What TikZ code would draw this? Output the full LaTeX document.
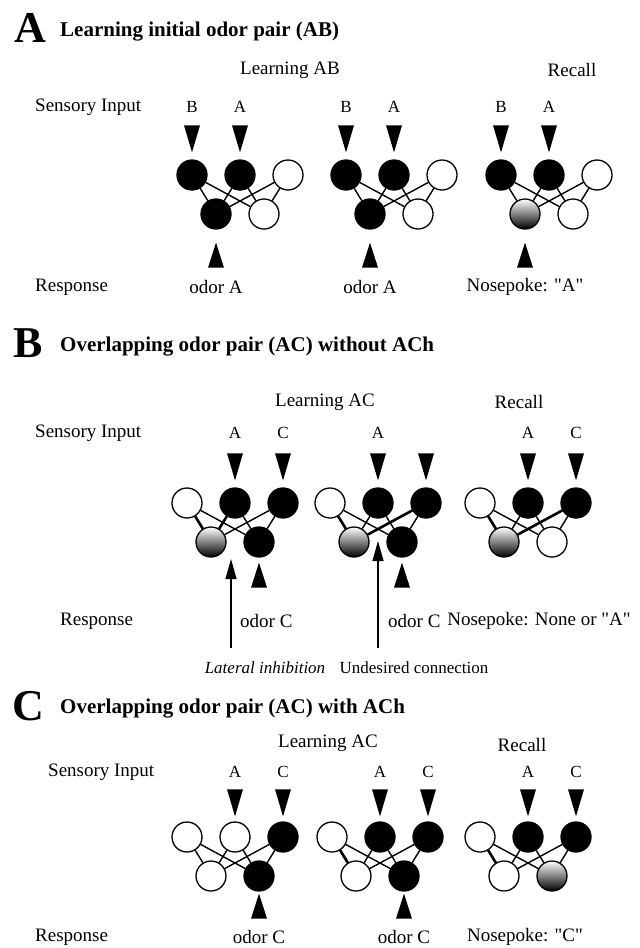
\documentclass[tikz,border=0pt]{standalone}
\usepackage{fontspec}
\setmainfont{Liberation Serif}[Ligatures=TeXOff]
\usetikzlibrary{arrows.meta,calc,backgrounds}

% one layer of three input cells above two output cells, fully connected
\newcommand\drawnet[8]{%
  \node[#4] (#1t1) at (#2,#3) {};
  \node[#5] (#1t2) at (#2+48,#3) {};
  \node[#6] (#1t3) at (#2+96,#3) {};
  \node[#7] (#1b1) at (#2+24,#3+39) {};
  \node[#8] (#1b2) at (#2+72,#3+39) {};
  \foreach \u in {1,2,3}{\foreach \v in {1,2}{\draw[syn] (#1t\u) -- (#1b\v);}}
}

\begin{document}
\begin{tikzpicture}[x=1pt,y=-1pt,
  neuron/.style={circle,draw=black,line width=1.3pt,minimum size=30pt,inner sep=0pt},
  on/.style={neuron,fill=black},
  off/.style={neuron,fill=white},
  mid/.style={neuron,top color=white,middle color=gray!60,bottom color=black},
  syn/.style={line width=1.4pt},
  strong/.style={line width=2.6pt},
  big/.style={font=\fontsize{44}{44}\selectfont\bfseries,inner sep=0pt},
  heading/.style={font=\fontsize{21}{24}\selectfont\bfseries,anchor=west,inner sep=0pt},
  lab/.style={font=\fontsize{19}{22}\selectfont,inner sep=0pt},
  note/.style={font=\fontsize{17}{20}\selectfont,inner sep=0pt},
  odor/.style={font=\fontsize{17}{20}\selectfont,inner sep=0pt},
  pointer/.style={line width=1.2pt,-{Triangle[length=20pt,width=11pt]}},
  downtri/.pic={\fill (-8,-27) -- (8,-27) -- (0,0) -- cycle;},
  uptri/.pic={\fill (-8,25) -- (8,25) -- (0,0) -- cycle;}
]
\useasboundingbox[fill=white] (0,0) rectangle (640,948);

% ---------------- A ----------------
\node[big] (Aletter) at (30,28) {A};
\node[heading] (Atitle) at (60,32) {Learning initial odor pair (AB)};
\node[lab] (Alearn) at (290,70) {Learning AB};
\node[lab] (Arecall) at (572,70) {Recall};
\node[lab,anchor=west] (Asens) at (35,107) {Sensory Input};
\node[lab,anchor=west] (Aresp) at (35,287) {Response};

\drawnet{A1}{192}{175}{on}{on}{off}{on}{off}
\drawnet{A2}{346}{175}{on}{on}{off}{on}{off}
\drawnet{A3}{501}{175}{on}{on}{off}{mid}{off}

\foreach \n in {A1,A2,A3}{
  \node[odor] (\n inB) at ($(\n t1)+(0,-68)$) {B};
  \node[odor] (\n inA) at ($(\n t2)+(0,-68)$) {A};
  \pic at ($(\n t1.north)+(0,-7)$) {downtri};
  \pic at ($(\n t2.north)+(0,-7)$) {downtri};
  \pic at ($(\n b1.south)+(0,13)$) {uptri};
}
\node[lab] (A1out) at (216,287) {odor A};
\node[lab] (A2out) at (370,287) {odor A};
\node[lab] (A3out) at (525,287) {Nosepoke: "A"};

% ---------------- B ----------------
\node[big] (Bletter) at (28,343) {B};
\node[heading] (Btitle) at (60,347) {Overlapping odor pair (AC) without ACh};
\node[lab] (Blearn) at (325,402) {Learning AC};
\node[lab] (Brecall) at (519,402) {Recall};
\node[lab,anchor=west] (Bsens) at (35,433) {Sensory Input};
\node[lab,anchor=west] (Bresp) at (60,621) {Response};

\drawnet{B1}{187}{503}{off}{on}{on}{mid}{on}
\drawnet{B2}{330}{503}{off}{on}{on}{mid}{on}
\drawnet{B3}{480}{503}{off}{on}{on}{mid}{off}

\draw[strong] (B1t1) -- (B1b1);
\draw[strong] (B1t2) -- (B1b1);
\draw[strong] (B2t1) -- (B2b1);
\draw[strong] (B2t3) -- (B2b1);
\draw[strong] (B3t1) -- (B3b1);
\draw[strong] (B3t3) -- (B3b1);
% lateral inhibition between the two output cells
\begin{pgfonlayer}{background}
  \draw[line width=15pt] (B1b1.center) -- (B1b2.center);
\end{pgfonlayer}

\node[odor] (B1inA) at ($(B1t2)+(0,-70)$) {A};
\node[odor] (B1inC) at ($(B1t3)+(0,-70)$) {C};
\node[odor] (B2inA) at ($(B2t2)+(0,-70)$) {A};
\node[odor] (B3inA) at ($(B3t2)+(0,-70)$) {A};
\node[odor] (B3inC) at ($(B3t3)+(0,-70)$) {C};
\foreach \n in {B1,B2,B3}{
  \pic at ($(\n t2.north)+(0,-7)$) {downtri};
  \pic at ($(\n t3.north)+(0,-7)$) {downtri};
}
\pic at ($(B1b2.south)+(0,5)$) {uptri};
\pic at ($(B2b2.south)+(0,5)$) {uptri};

\coordinate (B1tip) at (231,559);
\coordinate (B1foot) at (231,648);
\coordinate (B2tip) at (378,541);
\coordinate (B2foot) at (378,648);
\draw[pointer] (B1foot) -- (B1tip);
\draw[pointer] (B2foot) -- (B2tip);

\node[lab,anchor=west] (B1out) at (240,621) {odor C};
\node[lab,anchor=west] (B2out) at (388,621) {odor C};
\node[lab] (B3out) at (539,621) {Nosepoke: None or "A"};
\node[note,font=\fontsize{17}{20}\selectfont\itshape] (Blat) at (265,668) {Lateral inhibition};
\node[note] (Bund) at (414,668) {Undesired connection};

% ---------------- C ----------------
\node[big] (Cletter) at (28,706) {C};
\node[heading] (Ctitle) at (60,709) {Overlapping odor pair (AC) with ACh};
\node[lab] (Clearn) at (328,743) {Learning AC};
\node[lab] (Crecall) at (522,745) {Recall};
\node[lab,anchor=west] (Csens) at (48,772) {Sensory Input};
\node[lab,anchor=west] (Cresp) at (35,937) {Response};

\drawnet{C1}{187}{837}{off}{off}{on}{off}{on}
\drawnet{C2}{332}{837}{off}{on}{on}{off}{on}
\drawnet{C3}{480}{837}{off}{on}{on}{off}{mid}
\draw[strong] (C2t1) -- (C2b1);
\draw[strong] (C3t1) -- (C3b1);

\foreach \n in {C1,C2,C3}{
  \node[odor] (\n inA) at ($(\n t2)+(0,-65)$) {A};
  \node[odor] (\n inC) at ($(\n t3)+(0,-65)$) {C};
  \pic at ($(\n t2.north)+(0,-5)$) {downtri};
  \pic at ($(\n t3.north)+(0,-5)$) {downtri};
}
\pic at ($(C1b2.south)+(0,2)$) {uptri};
\pic at ($(C2b2.south)+(0,2)$) {uptri};

\node[lab] (C1out) at (259,937) {odor C};
\node[lab] (C2out) at (404,937) {odor C};
\node[lab] (C3out) at (525,937) {Nosepoke: "C"};
\end{tikzpicture}
\end{document}
